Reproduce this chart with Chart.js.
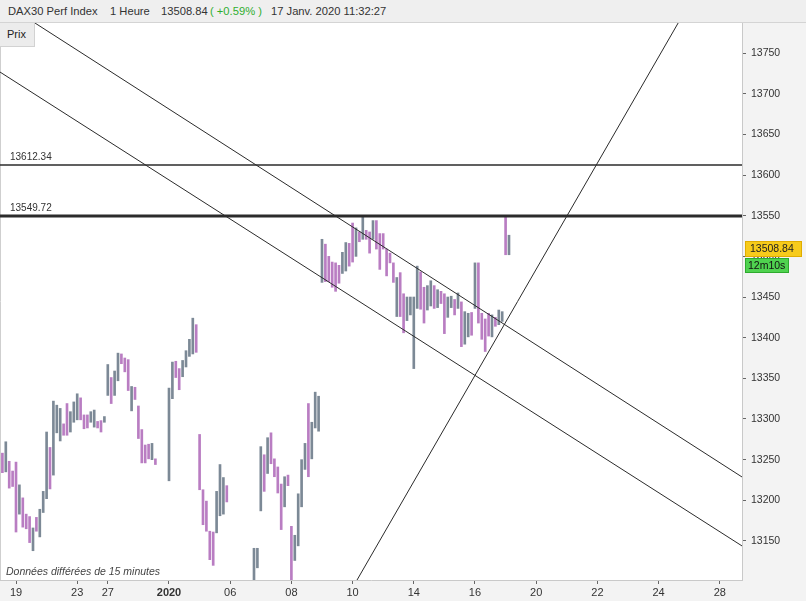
<!DOCTYPE html>
<html lang="fr">
<head>
<meta charset="utf-8">
<title>DAX30 Perf Index - 1 Heure</title>
<script src="https://cdn.jsdelivr.net/npm/chart.js@4.4.1/dist/chart.umd.min.js"></script>
<style>
  html, body { margin: 0; padding: 0; background: #fff; }
  #cadre { position: relative; width: 806px; height: 601px; overflow: hidden; font-family: Arial, "Liberation Sans", sans-serif; }
  #entete { position: absolute; left: 0; top: 0; width: 806px; height: 22px; background: #efefef; border-bottom: 1px solid #d4d4d4; font-size: 11.2px; color: #333; z-index: 2; }
  #entete span { position: absolute; top: 5px; white-space: nowrap; }
  #entete .vert { color: #2fae2f; }
  #onglet { position: absolute; left: 0; top: 23px; width: 34px; height: 23px; background: #ececec; border-right: 1px solid #d2d2d2; border-bottom: 1px solid #d2d2d2; font-size: 11px; line-height: 23px; color: #222; z-index: 2; }
  #onglet span { margin-left: 7px; }
  #graphe { position: absolute; left: 0; top: 23px; }
</style>
</head>
<body>
<div id="cadre">
  <div id="entete">
    <span style="left:8px">DAX30 Perf Index</span>
    <span style="left:110px">1 Heure</span>
    <span style="left:161px">13508.84</span>
    <span class="vert" style="left:210px">( +0.59% )</span>
    <span style="left:271px">17 Janv. 2020 11:32:27</span>
  </div>
  <div id="onglet"><span>Prix</span></div>
  <canvas id="graphe" width="806" height="578"></canvas>
</div>
<script>
// séances (une barre par heure, 9 par séance)
const seances = ['18/12', '19/12', '20/12', '23/12', '27/12', '30/12', '02/01', '03/01', '06/01',
                 '07/01', '08/01', '09/01', '10/01', '13/01', '14/01', '15/01', '16/01', '17/01'];

const plusHauts = [
    [null, null, null, null, null, 13258, 13272, 13248, 13236],
    [13247, 13219, 13203, 13183, 13180, 13166, 13179, 13189, 13211],
    [13284, 13265, 13322, 13317, 13313, 13294, 13319, 13309, 13321],
    [13331, 13326, 13305, 13305, 13309, 13311, 13297, 13298, 13303],
    [13367, 13351, 13359, 13381, 13380, 13375, 13373, 13340, 13339],
    [13316, 13287, 13268, 13269, 13270, 13251, null, null, null],
    [13338, 13370, 13371, 13362, 13372, 13384, 13398, 13424, 13416],
    [13281, 13213, 13199, 13162, 13161, 13211, 13244, 13228, 13218],
    [null, null, null, null, null, null, null, 13141, 13141],
    [13266, 13256, 13277, 13283, 13251, 13241, 13220, 13229, 13231],
    [13168, 13157, 13208, 13250, 13270, 13319, 13296, 13333, 13328],
    [13521, 13515, 13500, 13493, 13492, 13489, 13505, 13517, 13516],
    [13541, 13535, 13530, 13549, 13532, 13530, 13544, 13544, 13528],
    [13528, 13509, 13504, 13492, 13474, 13480, 13454, 13450, 13450],
    [13450, 13488, 13481, 13462, 13464, 13470, 13464, 13459, 13457],
    [13454, 13450, 13451, 13447, 13455, 13444, 13432, 13430, 13431],
    [13492, 13492, 13430, 13423, 13430, 13428, 13425, 13434, 13432],
    [13550, 13526, null, null, null, null, null, null, null]
];

const plusBas = [
    [null, null, null, null, null, 13234, 13235, 13215, 13217],
    [13161, 13183, 13167, 13165, 13148, 13138, 13162, 13155, 13185],
    [13202, 13214, 13231, 13283, 13273, 13280, 13280, 13284, 13296],
    [13299, 13299, 13288, 13289, 13296, 13290, 13289, 13284, 13296],
    [13329, 13319, 13329, 13347, 13368, 13358, 13335, 13310, 13324],
    [13276, 13246, 13246, 13251, 13250, 13244, null, null, null],
    [13224, 13325, 13351, 13336, 13352, 13364, 13377, 13380, 13382],
    [13213, 13170, 13162, 13127, 13120, 13160, 13181, 13183, 13198],
    [null, null, null, null, null, null, null, 13080, 13117],
    [13187, 13211, 13233, 13245, 13229, 13209, 13164, 13192, 13218],
    [13095, 13126, 13144, 13192, 13238, 13229, 13251, 13289, 13285],
    [13468, 13469, 13469, 13462, 13457, 13467, 13479, 13482, 13488],
    [13493, 13500, 13518, 13521, 13521, 13504, 13521, 13509, 13484],
    [13509, 13476, 13492, 13468, 13426, 13426, 13406, 13421, 13428],
    [13362, 13436, 13435, 13418, 13434, 13439, 13436, 13437, 13442],
    [13405, 13425, 13437, 13428, 13436, 13389, 13392, 13401, 13403],
    [13436, 13418, 13398, 13383, 13402, 13401, 13414, 13416, 13420],
    [13502, 13502, null, null, null, null, null, null, null]
];

// u = hausse (gris), d = baisse (violet), . = pas de barre
const sens = [
    '.....dudd', 'duddduduu', 'uduuudduu', 'uddduuddu', 'uduudddud', 'ddddud...',
    'uudduuuud', 'ddddduuud', '.......uu', 'ududdddud', 'duuuuduuu', 'uddddduud',
    'dududdudd', 'ddddudduu', 'uudduudud', 'duududuud', 'udddduduu', 'du.......'
];

// axe des temps
const jourTicks = [1, 3, 4, 6, 8, 10, 12, 14, 16, 18, 20, 22, 24];
const jourLabels = ['19', '23', '27', '2020', '06', '08', '10', '14', '16', '20', '22', '24', '28'];
const prixTicks = [13150, 13200, 13250, 13300, 13350, 13400, 13450, 13500, 13550, 13600, 13650, 13700, 13750];

// niveaux horizontaux et droites de tendance
const niveaux = [13612.34, 13549.72];
const tendanceHaute = [[0.477, 13814.6], [24.726, 13228.7]];
const tendanceBasse = [[0.477, 13726.7], [24.726, 13143.9]];
const tendanceMontante = [[11.9, 13086], [22.9, 13804]];

const dernierCours = 13508.84;
const compteRebours = '12m10s';

const X_MIN = 0.477;
const X_MAX = 24.726;
const Y_MIN = 13102;
const Y_MAX = 13787;

const GRIS = '#7c8996';
const VIOLET = '#b97dc2';
const TRAIT = '#2b2b2b';
const TEXTE = '#333';

function construireBarres() {
    const pts = [];
    seances.forEach((s, i) => {
        plusHauts[i].forEach((hi, h) => {
            if (hi == null) return;
            pts.push({ x: i + h / 9, y: [plusBas[i][h], hi], sens: sens[i][h] });
        });
    });
    return pts;
}

function droite(pts, largeur) {
    return {
        type: 'line',
        data: pts.map(p => ({ x: p[0], y: p[1] })),
        borderColor: TRAIT,
        borderWidth: largeur,
        pointRadius: 0,
        fill: false,
        clip: 0,
        order: 0
    };
}

const fondPlugin = {
    id: 'fond',
    beforeDraw(chart) {
        const { ctx, chartArea: a, width, height } = chart;
        ctx.save();
        ctx.fillStyle = '#fff';
        ctx.fillRect(0, 0, width, height);
        ctx.fillStyle = '#f3f3f3';
        ctx.fillRect(a.right, 0, width - a.right, height);
        ctx.fillRect(0, a.bottom, width, height - a.bottom);
        ctx.strokeStyle = '#cfcfcf';
        ctx.lineWidth = 1;
        ctx.beginPath();
        ctx.moveTo(0.5, 0);
        ctx.lineTo(0.5, a.bottom);
        ctx.stroke();
        ctx.restore();
    },
    afterDraw(chart) {
        const { ctx, chartArea: a } = chart;
        const y = chart.scales.y;
        ctx.save();
        // étiquettes des niveaux
        ctx.fillStyle = TEXTE;
        ctx.font = '10px Arial, "Liberation Sans", sans-serif';
        ctx.textBaseline = 'bottom';
        niveaux.forEach(n => {
            ctx.fillText(n.toFixed(2), 10, y.getPixelForValue(n) - 3);
        });
        ctx.font = 'italic 10.5px Arial, "Liberation Sans", sans-serif';
        ctx.fillStyle = '#444';
        ctx.textBaseline = 'alphabetic';
        ctx.fillText('Données différées de 15 minutes', 6, a.bottom - 5);

        // dernier cours et compte à rebours
        const py = Math.round(y.getPixelForValue(dernierCours));
        ctx.font = '10.5px Arial, "Liberation Sans", sans-serif';
        ctx.textBaseline = 'middle';
        ctx.fillStyle = '#f7cb1b';
        ctx.fillRect(a.right + 3, py - 8, 57, 16);
        ctx.strokeStyle = '#e0ad00';
        ctx.strokeRect(a.right + 3.5, py - 7.5, 56, 15);
        ctx.fillStyle = '#222';
        ctx.fillText(dernierCours.toFixed(2), a.right + 8, py);
        ctx.fillStyle = '#4fd24f';
        ctx.fillRect(a.right + 3, py + 9, 44, 15);
        ctx.strokeStyle = '#2eaa2e';
        ctx.strokeRect(a.right + 3.5, py + 9.5, 43, 14);
        ctx.fillStyle = '#111';
        ctx.fillText(compteRebours, a.right + 6, py + 17);
        ctx.restore();
    }
};

const barres = construireBarres();

new Chart(document.getElementById('graphe'), {
    type: 'bar',
    data: {
        datasets: [
            droite([[X_MIN, niveaux[0]], [X_MAX, niveaux[0]]], 1.6),
            droite([[X_MIN, niveaux[1]], [X_MAX, niveaux[1]]], 3),
            droite(tendanceHaute, 1),
            droite(tendanceBasse, 1),
            droite(tendanceMontante, 1),
            {
                type: 'bar',
                data: barres,
                backgroundColor: c => (c.raw && c.raw.sens === 'u') ? GRIS : VIOLET,
                barThickness: 2,
                grouped: false,
                borderWidth: 0,
                clip: 0,
                order: 1
            }
        ]
    },
    options: {
        responsive: false,
        animation: false,
        events: [],
        layout: { padding: 0 },
        plugins: {
            legend: { display: false },
            tooltip: { enabled: false }
        },
        scales: {
            x: {
                type: 'linear',
                min: X_MIN,
                max: X_MAX,
                offset: false,
                afterBuildTicks: s => { s.ticks = jourTicks.map(v => ({ value: v })); },
                afterFit: s => { s.height = 21; s.paddingLeft = 0; s.paddingRight = 0; },
                grid: { offset: false, drawOnChartArea: false, drawTicks: true, tickLength: 4, color: '#666' },
                border: { display: true, color: '#c9c9c9' },
                ticks: {
                    autoSkip: false,
                    maxRotation: 0,
                    padding: 2,
                    color: TEXTE,
                    font: c => ({ size: 11, weight: jourLabels[c.index] === '2020' ? 'bold' : 'normal' }),
                    callback: v => jourLabels[jourTicks.indexOf(v)]
                }
            },
            y: {
                position: 'right',
                min: Y_MIN,
                max: Y_MAX,
                afterBuildTicks: s => { s.ticks = prixTicks.map(v => ({ value: v })); },
                afterFit: s => { s.width = 64; s.paddingTop = 0; s.paddingBottom = 0; },
                grid: { drawOnChartArea: false, drawTicks: true, tickLength: 4, color: '#666' },
                border: { display: true, color: '#c9c9c9' },
                ticks: {
                    padding: 5,
                    color: TEXTE,
                    font: { size: 10.5 },
                    callback: v => String(v)
                }
            }
        }
    },
    plugins: [fondPlugin]
});
</script>
</body>
</html>
